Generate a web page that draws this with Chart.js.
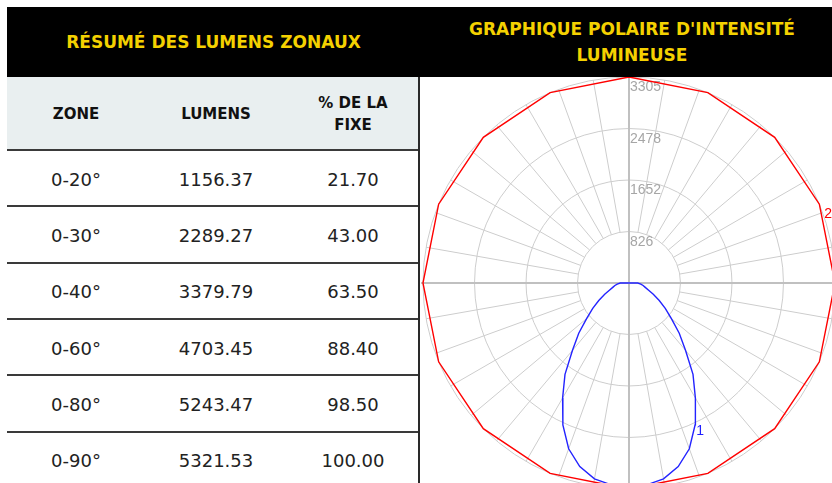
<!DOCTYPE html>
<html>
<head>
<meta charset="utf-8">
<script src="https://cdn.jsdelivr.net/npm/chart.js@4.4.0/dist/chart.umd.min.js"></script>
<style>
  body { margin: 0; width: 832px; height: 483px; background: #fff; overflow: hidden; position: relative; font-family: "DejaVu Sans", sans-serif; }
  .band { position: absolute; left: 7px; top: 7px; width: 825px; height: 70px; background: #000; }
  .title { position: absolute; top: 7px; height: 70px; color: #f4d100; font-weight: bold; font-size: 17px; line-height: 26px; text-align: center; display: flex; align-items: center; justify-content: center; }
  .head-row { position: absolute; left: 7px; top: 77px; width: 412px; height: 73px; background: #e9eff0; }
  .cell { position: absolute; width: 140px; margin-left: -70px; display: flex; align-items: center; justify-content: center; text-align: center; }
  .head { font-weight: bold; font-size: 15px; line-height: 22px; color: #111; }
  .body { font-size: 18px; color: #222; }
  .rule { position: absolute; left: 7px; width: 412px; height: 2px; background: #3a3a3a; }
  .vrule { position: absolute; left: 418px; top: 77px; width: 2px; height: 406px; background: #2a2a2a; }
  .plot { position: absolute; left: 421px; top: 77px; width: 411px; height: 406px; overflow: hidden; }
  #polar { position: absolute; left: -8px; top: -10px; width: 432px; height: 432px; }
</style>
</head>
<body>
<div class="band"></div>
<div class="title" style="left:7px;width:413px;">RÉSUMÉ DES LUMENS ZONAUX</div>
<div class="title" style="left:432px;width:400px;">GRAPHIQUE POLAIRE D'INTENSITÉ<br>LUMINEUSE</div>
<div class="head-row"></div>
<div id="table"></div>
<div class="vrule"></div>
<div class="plot"><canvas id="polar" width="432" height="432"></canvas></div>
<script>
// zonal lumen table
const columnTitles = ['ZONE', 'LUMENS', '% DE LA<br>FIXE'];
const zones = ['0-20°', '0-30°', '0-40°', '0-60°', '0-80°', '0-90°'];
const lumens = [1156.37, 2289.27, 3379.79, 4703.45, 5243.47, 5321.53];
const percents = [21.70, 43.00, 63.50, 88.40, 98.50, 100.00];

// polar plot: rings (cd), spoke spacing (deg), curves as angle from nadir -> cd
const ringValues = [826, 1652, 2478, 3305];
const spokeStep = 10;
const redAngles = [0, 22.5, 45, 67.5, 90, 112.5, 135, 157.5, 180, 202.5, 225, 247.5, 270, 292.5, 315, 337.5, 360];
const redValues = [3305, 3305, 3305, 3305, 3305, 3305, 3305, 3305, 3305, 3305, 3305, 3305, 3305, 3305, 3305, 3305, 3305];
const blueAngles = [0, 5, 10, 15, 20, 25, 30, 35, 40, 45, 50, 55, 60, 65, 70, 75, 80, 85, 90];
const blueValues = [3290, 3250, 3190, 3050, 2830, 2510, 2130, 1790, 1410, 1140, 885, 710, 560, 430, 330, 270, 230, 190, 140];

const colX = [76, 216, 353];
const rowTop = 150, rowH = 56.33;
const table = document.getElementById('table');
let html = '';
columnTitles.forEach((t, c) => {
  html += `<div class="cell head" style="left:${colX[c]}px;top:77px;height:73px;">${t}</div>`;
});
zones.forEach((z, i) => {
  const top = rowTop + i * rowH;
  html += `<div class="rule" style="top:${top - 1}px;"></div>`;
  const vals = [z, lumens[i].toFixed(2), percents[i].toFixed(2)];
  vals.forEach((v, c) => {
    html += `<div class="cell body" style="left:${colX[c]}px;top:${top + 1}px;height:${rowH}px;">${v}</div>`;
  });
});
table.innerHTML = html;

const toXY = (deg, v) => {
  const t = deg * Math.PI / 180;
  return { x: v * Math.sin(t), y: -v * Math.cos(t) };
};
const redPoints = redAngles.map((a, i) => toXY(a, redValues[i]));
const bluePoints = [
  ...blueAngles.map((a, i) => toXY(a, blueValues[i])),
  { x: 0, y: 0 },
  ...blueAngles.map((a, i) => toXY(-a, blueValues[i])).reverse()
];

// 3305 cd sits 206px from the centre of the 432px canvas
const axisLimit = 3465;

const polarGrid = {
  id: 'polarGrid',
  beforeDatasetsDraw(chart) {
    const { ctx, scales: { x, y } } = chart;
    const cx = x.getPixelForValue(0);
    const cy = y.getPixelForValue(0);
    const r = v => x.getPixelForValue(v) - cx;
    const inner = r(ringValues[0]);
    const outer = r(ringValues[ringValues.length - 1]);
    ctx.save();
    ctx.strokeStyle = '#cdcdcd';
    ctx.lineWidth = 1;
    ringValues.forEach(v => {
      ctx.beginPath();
      ctx.arc(cx, cy, r(v), 0, Math.PI * 2);
      ctx.stroke();
    });
    for (let a = 0; a < 360; a += spokeStep) {
      if (a % 90 === 0) continue;
      const t = a * Math.PI / 180;
      ctx.beginPath();
      ctx.moveTo(cx + inner * Math.sin(t), cy + inner * Math.cos(t));
      ctx.lineTo(cx + outer * Math.sin(t), cy + outer * Math.cos(t));
      ctx.stroke();
    }
    // main axes
    const { left, right, top, bottom } = chart.chartArea;
    ctx.strokeStyle = '#c0c0c0';
    ctx.lineWidth = 2;
    ctx.beginPath();
    ctx.moveTo(left, cy); ctx.lineTo(right, cy);
    ctx.moveTo(cx, top); ctx.lineTo(cx, bottom);
    ctx.stroke();
    // ring labels
    ctx.fillStyle = '#a6a6a6';
    ctx.font = '14px "Liberation Sans", Arial, sans-serif';
    ctx.textAlign = 'left';
    ctx.textBaseline = 'alphabetic';
    ringValues.forEach(v => ctx.fillText(String(v), cx + 1, cy - r(v) + 14));
    ctx.restore();
  },
  afterDatasetsDraw(chart) {
    const { ctx, scales: { x, y } } = chart;
    ctx.save();
    ctx.font = '14px "Liberation Sans", Arial, sans-serif';
    ctx.textAlign = 'left';
    ctx.textBaseline = 'alphabetic';
    const p2 = redPoints[5];
    ctx.fillStyle = '#ff0000';
    ctx.fillText('2', x.getPixelForValue(p2.x) + 5, y.getPixelForValue(p2.y) + 14);
    const p1 = bluePoints[5];
    ctx.fillStyle = '#1f1fff';
    ctx.fillText('1', x.getPixelForValue(p1.x) + 1, y.getPixelForValue(p1.y) + 10);
    ctx.restore();
  }
};

new Chart(document.getElementById('polar'), {
  type: 'scatter',
  data: {
    datasets: [
      { label: '2', data: redPoints, showLine: true, borderColor: '#ff0000', borderWidth: 1.4, pointRadius: 0, fill: false, tension: 0 },
      { label: '1', data: bluePoints, showLine: true, borderColor: '#2323ff', borderWidth: 1.4, pointRadius: 0, fill: false, tension: 0 }
    ]
  },
  options: {
    responsive: false,
    animation: false,
    events: [],
    layout: { padding: 0 },
    scales: {
      x: { type: 'linear', min: -axisLimit, max: axisLimit, display: false },
      y: { type: 'linear', min: -axisLimit, max: axisLimit, display: false }
    },
    plugins: {
      legend: { display: false },
      tooltip: { enabled: false }
    }
  },
  plugins: [polarGrid]
});
</script>
</body>
</html>
